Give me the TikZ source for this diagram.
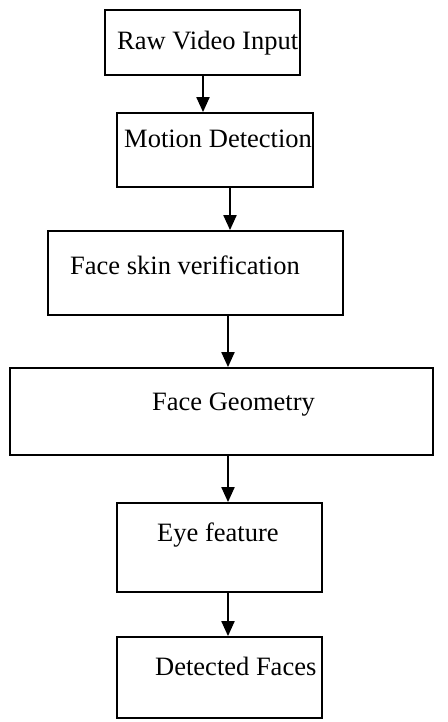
\documentclass[tikz,border=0pt]{standalone}
\usepackage{fontspec}
\setmainfont{Liberation Serif}
\usetikzlibrary{arrows.meta}
\begin{document}
\begin{tikzpicture}[x=1pt,y=-1pt,
  stepbox/.style={draw,line width=1.8pt,rectangle,inner sep=0pt},
  lbl/.style={anchor=base west,inner sep=0pt,font=\fontsize{26.5}{30}\selectfont},
  arr/.style={line width=2pt,-{Triangle[length=15pt,width=13pt]}}]
\useasboundingbox (0,0) rectangle (447,722);
\node[stepbox,minimum width=195pt,minimum height=65pt] (b1) at (202.5,42.5) {};
\node[stepbox,minimum width=196pt,minimum height=74pt] (b2) at (215,150) {};
\node[stepbox,minimum width=295pt,minimum height=84pt] (b3) at (195.5,273) {};
\node[stepbox,minimum width=423pt,minimum height=87pt] (b4) at (221.5,411.5) {};
\node[stepbox,minimum width=205pt,minimum height=89pt] (b5) at (219.5,547.5) {};
\node[stepbox,minimum width=205pt,minimum height=81pt] (b6) at (219.5,677.5) {};
\node[lbl] (t1) at (117,50) {Raw Video Input};
\node[lbl] (t2) at (124,148) {Motion Detection};
\node[lbl] (t3) at (70,274) {Face skin verification};
\node[lbl] (t4) at (152,410) {Face Geometry};
\node[lbl] (t5) at (157,541) {Eye feature};
\node[lbl] (t6) at (155,675) {Detected Faces};
\coordinate (ax1) at (203,0);
\coordinate (ax2) at (230,0);
\coordinate (ax3) at (228,0);
\draw[arr] (b1.south -| ax1) -- (b2.north -| ax1);
\draw[arr] (b2.south -| ax2) -- (b3.north -| ax2);
\draw[arr] (b3.south -| ax3) -- (b4.north -| ax3);
\draw[arr] (b4.south -| ax3) -- (b5.north -| ax3);
\draw[arr] (b5.south -| ax3) -- (b6.north -| ax3);
\end{tikzpicture}
\end{document}
